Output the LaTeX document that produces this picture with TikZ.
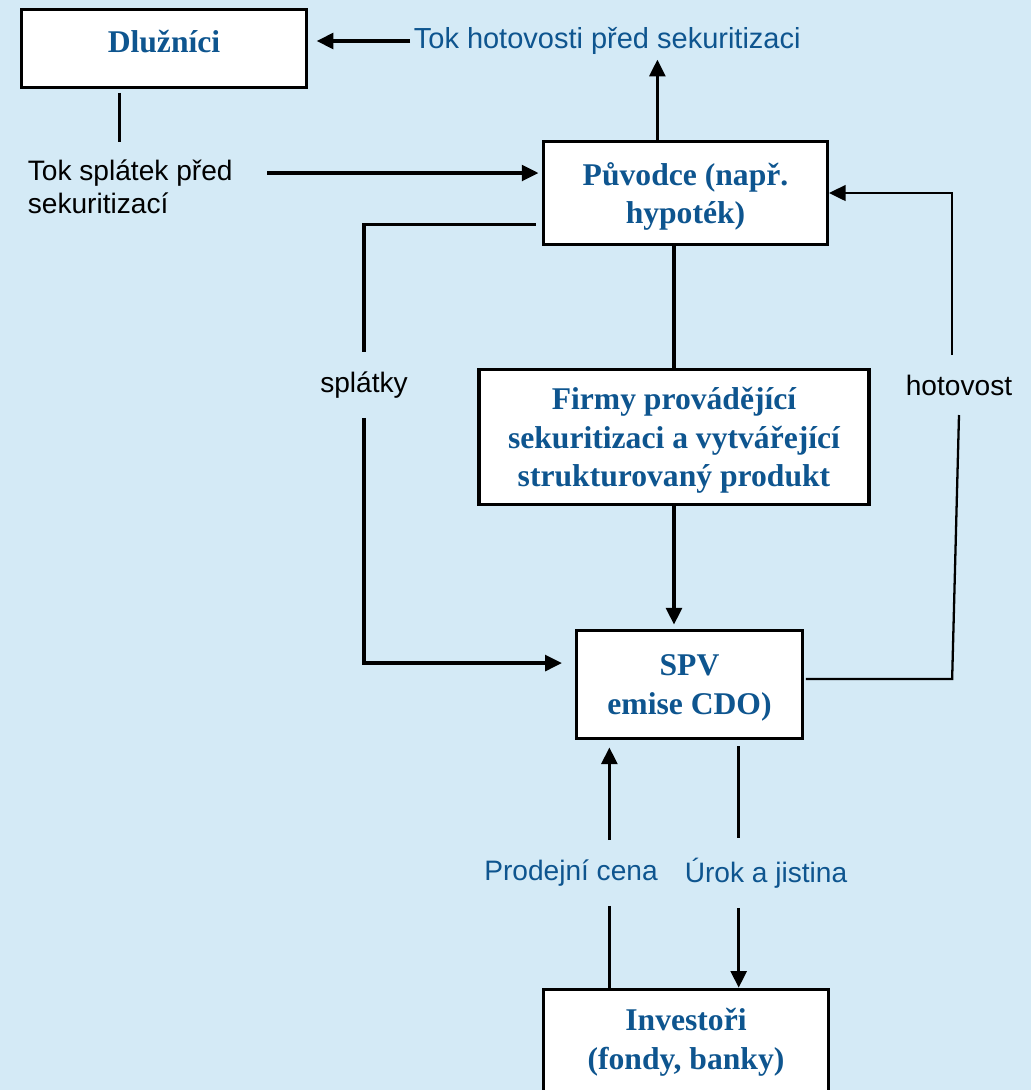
\documentclass[tikz,border=0pt]{standalone}
\usepackage{fontspec}
\setmainfont{Liberation Serif}
\newfontfamily\arial{Liberation Sans}
\usetikzlibrary{arrows.meta}
\definecolor{bgblue}{RGB}{212,234,246}
\definecolor{tblue}{RGB}{14,85,143}
\tikzset{
    box/.style={draw, line width=1.8pt, fill=white, inner sep=0pt, align=center,
        text=tblue, font=\bfseries\fontsize{18}{22}\selectfont},
    lowbox/.style={box, text depth=0pt},
    lbl/.style={inner sep=2pt, align=left, font=\arial\fontsize{16}{18.7}\selectfont},
    gaplbl/.style={lbl, inner xsep=2pt, inner ysep=11pt},
    ln/.style={line width=1.8pt},
    thinln/.style={line width=1.3pt},
    arr/.style={ln, -{Triangle[length=9.5pt,width=9pt]}}
}

\begin{document}
\begin{tikzpicture}[x=0.02cm,y=-0.02cm]
        \useasboundingbox (0,0) rectangle (1031,1090);
        \clip (0,0) rectangle (1031,1090);
        \fill[bgblue] (0,0) rectangle (1031,1090);

        \node[box, minimum width=162pt, minimum height=44.8pt, text height=12pt, text depth=7pt]
            (dluz) at (164,48.5) {Dlužníci};
        \node[lowbox, minimum width=161.6pt, minimum height=59pt] (puv) at (685.5,193)
            {Původce (např.\\hypoték)};
        \node[lowbox, minimum width=222pt, minimum height=77pt] (firmy) at (674,437)
            {Firmy provádějící\\sekuritizaci a vytvářející\\strukturovaný produkt};
        \node[lowbox, minimum width=128.7pt, minimum height=61.8pt] (spv) at (689.5,684.5)
            {SPV\\emise CDO)};
        \node[box, minimum width=162pt, minimum height=60pt] (inv) at (686,1042)
            {Investoři\\(fondy, banky)};

        \node[lbl, text=tblue, anchor=west, font=\arial\fontsize{16.5}{19}\selectfont]
            (hot0) at (410,41) {Tok hotovosti před sekuritizaci};
        \node[lbl, anchor=west] (spl0) at (24,187) {Tok splátek před\\sekuritizací};
        \node[gaplbl] (splat) at (364,385) {splátky};
        \node[gaplbl] (hotov) at (959,385) {hotovost};
        \node[gaplbl, text=tblue] (prodej) at (571,873) {Prodejní cena};
        \node[gaplbl, text=tblue] (urok) at (766,873) {Úrok a jistina};

        \coordinate (splA) at (267,173);
        \coordinate (pcTop) at ([xshift=-45.6pt]spv.south);
        \coordinate (urTop) at ([xshift=28pt]spv.south);
        \coordinate (spvR) at ([yshift=3.1pt]spv.east);
        \coordinate (hotL) at ([xshift=-3.9pt]hotov.south);

        \draw[arr, shorten >=5pt] (hot0.west) -- (hot0.west -| dluz.east);
        \draw[arr] ([xshift=-16pt]puv.north) -- ++(0,-80);
        \draw[ln] ([xshift=-25.5pt,yshift=-2pt]dluz.south) -- ++(0,49);
        \draw[arr, shorten >=2pt] (splA) -- (splA -| puv.west);
        \draw[ln, shorten <=3.4pt] ([yshift=-18pt]puv.west) -| (splat.north);
        \draw[arr, shorten >=7.4pt] (splat.south) |- ([yshift=12.2pt]spv.west);
        \draw[ln] (firmy.north |- puv.south) -- (firmy.north);
        \draw[arr, shorten >=2.3pt] (firmy.south) -- (firmy.south |- spv.north);
        \draw[thinln, shorten <=1pt] (spvR) -- (hotL |- spvR) -- (hotov.south);
        \draw[thinln, -{Triangle[length=9.5pt,width=9pt]}] (hotL |- hotov.north) |- (puv.east);
        \draw[arr, shorten >=4pt] (pcTop |- prodej.north) -- (pcTop);
        \draw[ln, shorten <=3.4pt] (urTop) -- (urTop |- urok.north);
        \draw[ln] (pcTop |- prodej.south) -- (pcTop |- inv.north);
        \draw[arr] (urTop |- urok.south) -- (urTop |- inv.north);
\end{tikzpicture}
\end{document}
